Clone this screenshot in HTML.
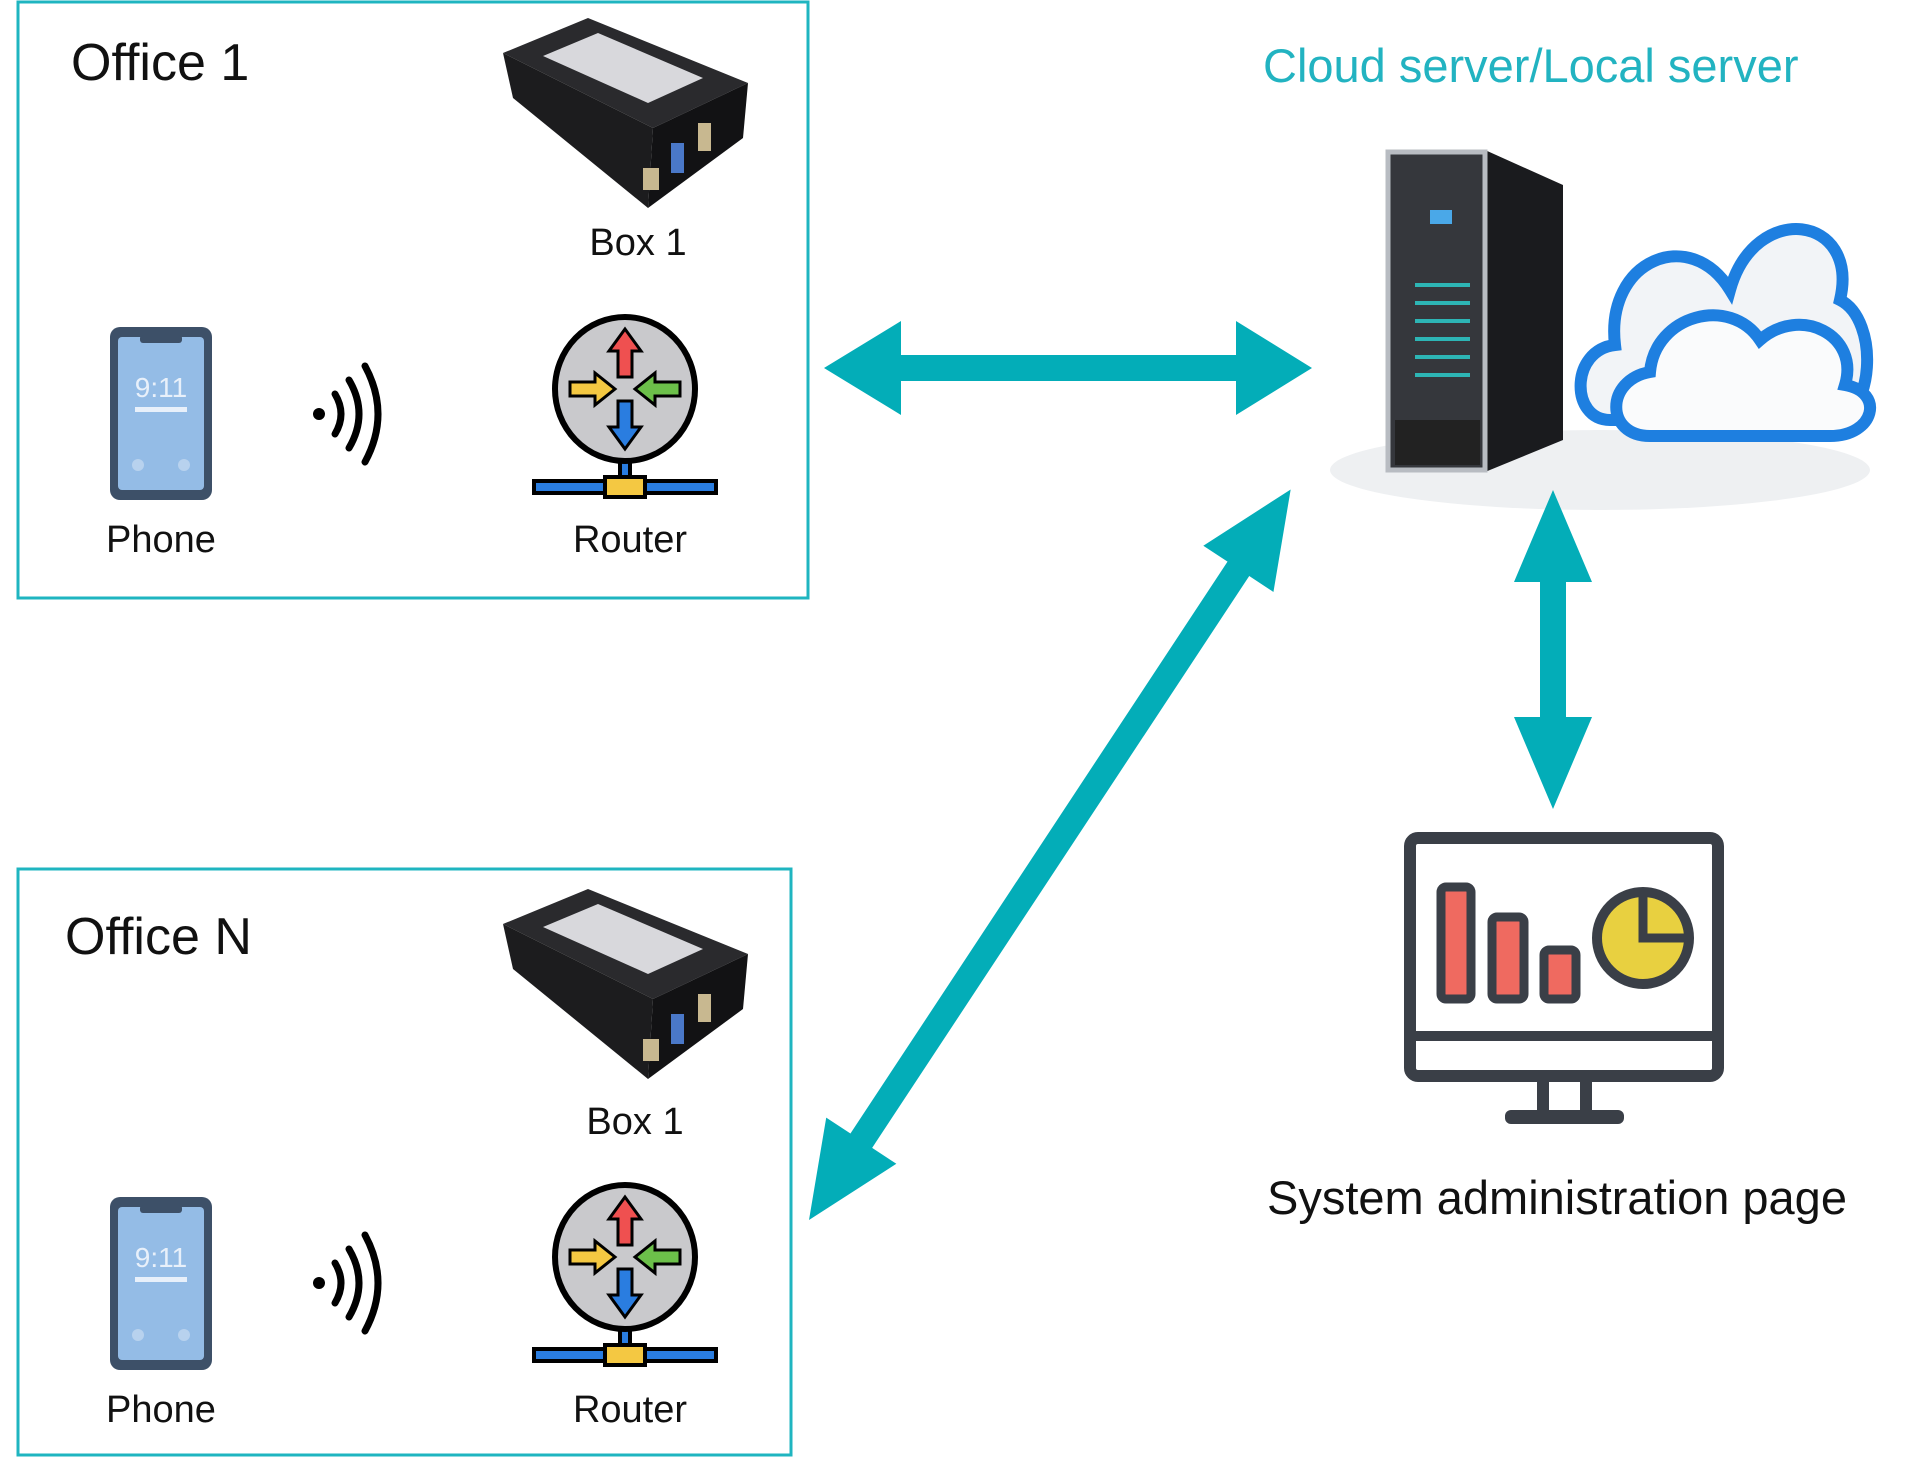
<!DOCTYPE html>
<html><head><meta charset="utf-8"><style>
html,body{margin:0;padding:0;background:#fff;}
svg{display:block;}
text{font-family:"Liberation Sans",sans-serif;}
</style></head><body>
<svg width="1920" height="1466" viewBox="0 0 1920 1466" xmlns="http://www.w3.org/2000/svg">
<defs>
<g id="box">
  <polygon points="0,35 85,0 245,65 150,110" fill="#2a2a2d"/>
  <polygon points="0,35 150,110 145,190 10,80" fill="#1c1c1e"/>
  <polygon points="150,110 245,65 240,120 145,190" fill="#121214"/>
  <polygon points="40,38 95,15 200,60 145,85" fill="#d8d8dc"/>
  <rect x="140" y="150" width="16" height="22" fill="#c8b890"/>
  <rect x="168" y="125" width="13" height="30" fill="#4a78c8"/>
  <rect x="195" y="105" width="13" height="28" fill="#c8b890"/>
</g>
<g id="phone">
  <rect x="0" y="0" width="102" height="173" rx="10" fill="#3d5068"/>
  <rect x="8" y="10" width="86" height="153" rx="4" fill="#94bce6"/>
  <rect x="30" y="8" width="42" height="8" rx="3" fill="#3d5068"/>
  <text x="51" y="70" font-size="28" fill="#e8f0fa" text-anchor="middle">9:11</text>
  <rect x="25" y="80" width="52" height="5" fill="#e8f0fa"/>
  <circle cx="28" cy="138" r="6" fill="#b8d2ee"/><circle cx="74" cy="138" r="6" fill="#b8d2ee"/>
</g>
<g id="wifi" fill="none" stroke="#000" stroke-width="7" stroke-linecap="round">
  <circle cx="6" cy="50" r="6" fill="#000" stroke="none"/>
  <path d="M22,30 Q34,50 22,70"/>
  <path d="M36,16 Q56,50 36,84"/>
  <path d="M52,2 Q78,50 52,98"/>
</g>
<g id="router">
  <rect x="-5" y="68" width="10" height="28" fill="#2a7de0" stroke="#000" stroke-width="4"/>
  <rect x="-91" y="92" width="182" height="12" fill="#2a7de0" stroke="#000" stroke-width="4"/>
  <rect x="-20" y="88" width="40" height="20" fill="#f4c842" stroke="#000" stroke-width="4"/>
  <ellipse cx="0" cy="0" rx="70" ry="72" fill="#c9c9cc" stroke="#000" stroke-width="6"/>
  <polygon points="0,-60 -16,-38 -7,-38 -7,-12 7,-12 7,-38 16,-38" fill="#ef5050" stroke="#000" stroke-width="3"/>
  <polygon points="0,60 -16,38 -7,38 -7,12 7,12 7,38 16,38" fill="#2a7de0" stroke="#000" stroke-width="3"/>
  <polygon points="-10,0 -30,-16 -30,-7 -55,-7 -55,7 -30,7 -30,16" fill="#f4c842" stroke="#000" stroke-width="3"/>
  <polygon points="10,0 30,-16 30,-7 55,-7 55,7 30,7 30,16" fill="#6cc04a" stroke="#000" stroke-width="3"/>
</g>
</defs>

<!-- Office 1 -->
<rect x="18" y="2" width="790" height="596" fill="none" stroke="#1fb5c0" stroke-width="3"/>
<text x="71" y="80" font-size="52" fill="#111">Office 1</text>
<use href="#box" x="503" y="18"/>
<text x="638" y="255" font-size="38" fill="#111" text-anchor="middle">Box 1</text>
<use href="#phone" x="110" y="327"/>
<use href="#wifi" x="313" y="364"/>
<use href="#router" x="625" y="389"/>
<text x="161" y="552" font-size="38" fill="#111" text-anchor="middle">Phone</text>
<text x="630" y="552" font-size="38" fill="#111" text-anchor="middle">Router</text>

<!-- Office N -->
<rect x="18" y="869" width="773" height="586" fill="none" stroke="#1fb5c0" stroke-width="3"/>
<text x="65" y="954" font-size="52" fill="#111">Office N</text>
<use href="#box" x="503" y="889"/>
<text x="635" y="1134" font-size="38" fill="#111" text-anchor="middle">Box 1</text>
<use href="#phone" x="110" y="1197"/>
<use href="#wifi" x="313" y="1233"/>
<use href="#router" x="625" y="1257"/>
<text x="161" y="1422" font-size="38" fill="#111" text-anchor="middle">Phone</text>
<text x="630" y="1422" font-size="38" fill="#111" text-anchor="middle">Router</text>

<!-- Server title -->
<text x="1263" y="82" font-size="47" fill="#22b3c1">Cloud server/Local server</text>

<!-- Server + cloud -->
<ellipse cx="1600" cy="470" rx="270" ry="40" fill="#eef0f2"/>
<g>
  <path d="M1610,420 C1570,420 1570,350 1615,345 C1605,260 1690,225 1730,290 C1755,200 1860,215 1840,300 C1880,320 1875,420 1830,420 Z" fill="#f2f4f7" stroke="#1e7fe0" stroke-width="12"/>
  <path d="M1650,436 C1605,436 1605,380 1650,372 C1655,315 1730,295 1760,340 C1800,305 1860,335 1845,385 C1885,392 1875,436 1830,436 Z" fill="#fafbfc" stroke="#1e7fe0" stroke-width="12"/>
  <polygon points="1485,150 1563,185 1563,440 1485,472" fill="#1a1b1e"/>
  <rect x="1388" y="152" width="97" height="318" fill="#35373c" stroke="#b8bcc2" stroke-width="5"/>
  <rect x="1430" y="210" width="22" height="14" fill="#4aa8e8"/>
  <g stroke="#2db5b5" stroke-width="4">
    <line x1="1415" y1="285" x2="1470" y2="285"/><line x1="1415" y1="303" x2="1470" y2="303"/>
    <line x1="1415" y1="321" x2="1470" y2="321"/><line x1="1415" y1="339" x2="1470" y2="339"/>
    <line x1="1415" y1="357" x2="1470" y2="357"/><line x1="1415" y1="375" x2="1470" y2="375"/>
  </g>
  <rect x="1395" y="420" width="85" height="45" fill="#222"/>
</g>

<!-- Arrows -->
<g fill="#03adb8">
  <polygon points="824,368 901,321 901,355 1236,355 1236,321 1312,368 1236,415 1236,381 901,381 901,415"/>
  <polygon points="1553,490 1592,582 1566,582 1566,717 1592,717 1553,809 1514,717 1540,717 1540,582 1514,582"/>
</g>
<g fill="#03adb8" transform="translate(809,1220) rotate(-56.6)">
  <polygon points="0,0 95,-42 95,-13 780,-13 780,-42 875,0 780,42 780,13 95,13 95,42"/>
</g>

<!-- Monitor -->
<g>
  <rect x="1410" y="838" width="308" height="238" rx="8" fill="#fff" stroke="#3a3f47" stroke-width="12"/>
  <line x1="1410" y1="1036" x2="1718" y2="1036" stroke="#3a3f47" stroke-width="10"/>
  <rect x="1537" y="1078" width="12" height="36" fill="#3a3f47"/>
  <rect x="1580" y="1078" width="12" height="36" fill="#3a3f47"/>
  <rect x="1505" y="1110" width="119" height="14" rx="6" fill="#3a3f47"/>
  <rect x="1441" y="887" width="30" height="112" rx="5" fill="#ef6a60" stroke="#3a3f47" stroke-width="9"/>
  <rect x="1492" y="917" width="32" height="82" rx="5" fill="#ef6a60" stroke="#3a3f47" stroke-width="9"/>
  <rect x="1544" y="950" width="32" height="49" rx="5" fill="#ef6a60" stroke="#3a3f47" stroke-width="9"/>
  <circle cx="1643" cy="938" r="46" fill="#e8d040" stroke="#3a3f47" stroke-width="10"/>
  <path d="M1643,892 L1643,938 L1689,938" fill="none" stroke="#3a3f47" stroke-width="9"/>
</g>
<text x="1557" y="1214" font-size="47" fill="#111" text-anchor="middle">System administration page</text>
</svg>
</body></html>
